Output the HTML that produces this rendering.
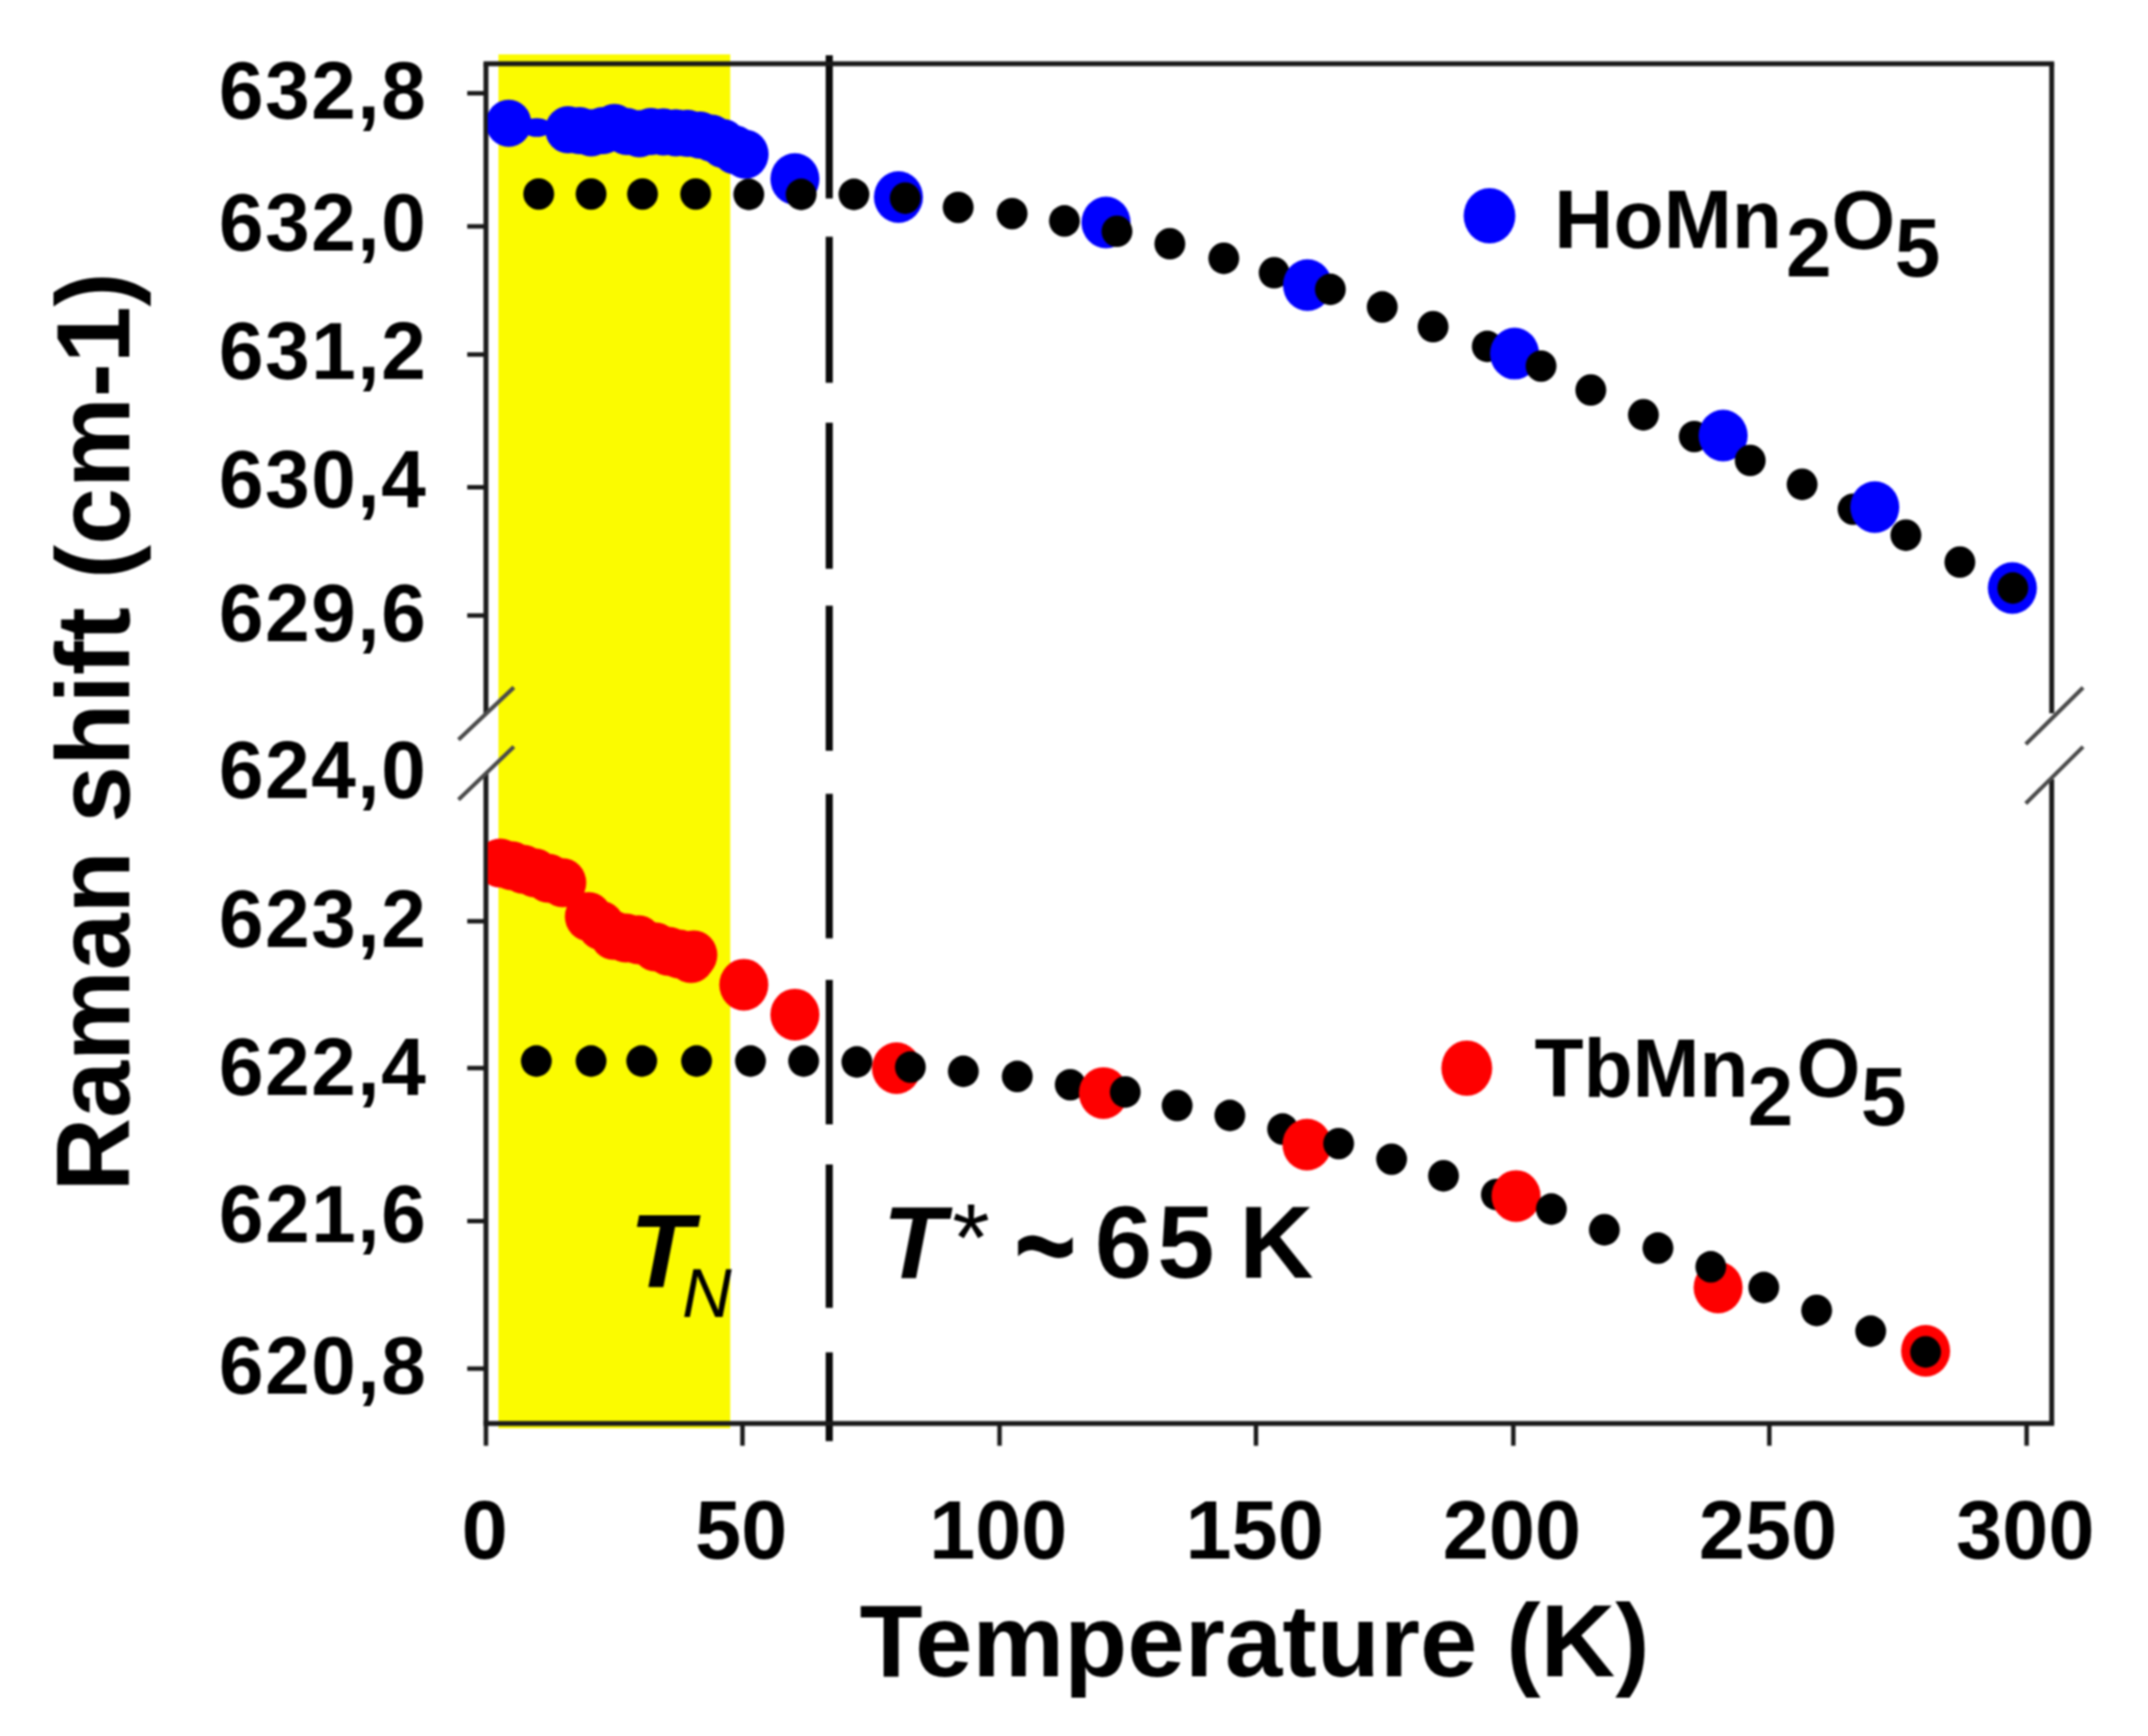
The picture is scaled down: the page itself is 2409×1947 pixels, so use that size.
<!DOCTYPE html>
<html><head><meta charset="utf-8"><title>Raman shift vs Temperature</title>
<style>html,body{margin:0;padding:0;background:#fff;overflow:hidden}svg{display:block;filter:blur(0.9px)}</style>
</head><body>
<svg width="2409" height="1947" viewBox="0 0 2409 1947" font-family='"Liberation Sans", Arial, Helvetica, sans-serif'>
<defs><clipPath id="plotclip"><rect x="547" y="71.5" width="1754" height="1525.1"/></clipPath></defs>
<rect width="2409" height="1947" fill="#fff"/>
<rect x="559" y="61" width="260" height="1541" fill="#fbfb00"/>
<rect x="926" y="62.0" width="8" height="160.6" fill="#0a0a0a"/>
<rect x="926" y="265.5" width="8" height="163.8" fill="#0a0a0a"/>
<rect x="926" y="474.1" width="8" height="163.8" fill="#0a0a0a"/>
<rect x="926" y="679.3" width="8" height="162.7" fill="#0a0a0a"/>
<rect x="926" y="890.3" width="8" height="162.1" fill="#0a0a0a"/>
<rect x="926" y="1099.0" width="8" height="162.0" fill="#0a0a0a"/>
<rect x="926" y="1306.0" width="8" height="160.8" fill="#0a0a0a"/>
<rect x="926" y="1516.7" width="8" height="99.6" fill="#0a0a0a"/>
<line x1="542.25" y1="71.5" x2="2303.75" y2="71.5" stroke="#1a1a1a" stroke-width="5.5"/>
<line x1="542.25" y1="1596.6" x2="2303.75" y2="1596.6" stroke="#1a1a1a" stroke-width="5.5"/>
<line x1="545" y1="71.5" x2="545" y2="800" stroke="#1a1a1a" stroke-width="5.5"/>
<line x1="545" y1="868" x2="545" y2="1596.6" stroke="#1a1a1a" stroke-width="5.5"/>
<line x1="2301" y1="71.5" x2="2301" y2="800" stroke="#1a1a1a" stroke-width="5.5"/>
<line x1="2301" y1="874" x2="2301" y2="1596.6" stroke="#1a1a1a" stroke-width="5.5"/>
<line x1="514.2" y1="829.6" x2="576.3" y2="771" stroke="#4a4a4a" stroke-width="4.5"/>
<line x1="514.2" y1="896.8" x2="576.3" y2="837.3" stroke="#4a4a4a" stroke-width="4.5"/>
<line x1="2271.9" y1="834.7" x2="2336.2" y2="771.1" stroke="#4a4a4a" stroke-width="4.5"/>
<line x1="2271.9" y1="901.1" x2="2336.2" y2="837.5" stroke="#4a4a4a" stroke-width="4.5"/>
<line x1="524" y1="104.6" x2="545" y2="104.6" stroke="#1a1a1a" stroke-width="5"/>
<line x1="524" y1="253.9" x2="545" y2="253.9" stroke="#1a1a1a" stroke-width="5"/>
<line x1="524" y1="397.6" x2="545" y2="397.6" stroke="#1a1a1a" stroke-width="5"/>
<line x1="524" y1="546.5" x2="545" y2="546.5" stroke="#1a1a1a" stroke-width="5"/>
<line x1="524" y1="690.3" x2="545" y2="690.3" stroke="#1a1a1a" stroke-width="5"/>
<line x1="524" y1="1033.2" x2="545" y2="1033.2" stroke="#1a1a1a" stroke-width="5"/>
<line x1="524" y1="1197.9" x2="545" y2="1197.9" stroke="#1a1a1a" stroke-width="5"/>
<line x1="524" y1="1369.5" x2="545" y2="1369.5" stroke="#1a1a1a" stroke-width="5"/>
<line x1="524" y1="1535" x2="545" y2="1535" stroke="#1a1a1a" stroke-width="5"/>
<line x1="545" y1="1596.6" x2="545" y2="1621.5" stroke="#1a1a1a" stroke-width="5"/>
<line x1="832.7" y1="1596.6" x2="832.7" y2="1621.5" stroke="#1a1a1a" stroke-width="5"/>
<line x1="1121" y1="1596.6" x2="1121" y2="1621.5" stroke="#1a1a1a" stroke-width="5"/>
<line x1="1408.6" y1="1596.6" x2="1408.6" y2="1621.5" stroke="#1a1a1a" stroke-width="5"/>
<line x1="1697.2" y1="1596.6" x2="1697.2" y2="1621.5" stroke="#1a1a1a" stroke-width="5"/>
<line x1="1984.3" y1="1596.6" x2="1984.3" y2="1621.5" stroke="#1a1a1a" stroke-width="5"/>
<line x1="2272.9" y1="1596.6" x2="2272.9" y2="1621.5" stroke="#1a1a1a" stroke-width="5"/>
<text x="477.5" y="132.5" text-anchor="end" font-size="90" font-weight="bold" textLength="232" lengthAdjust="spacing">632,8</text>
<text x="477.5" y="280.8" text-anchor="end" font-size="90" font-weight="bold" textLength="232" lengthAdjust="spacing">632,0</text>
<text x="477.5" y="425.4" text-anchor="end" font-size="90" font-weight="bold" textLength="232" lengthAdjust="spacing">631,2</text>
<text x="477.5" y="569.1" text-anchor="end" font-size="90" font-weight="bold" textLength="232" lengthAdjust="spacing">630,4</text>
<text x="477.5" y="719.0" text-anchor="end" font-size="90" font-weight="bold" textLength="232" lengthAdjust="spacing">629,6</text>
<text x="477.5" y="894.7" text-anchor="end" font-size="90" font-weight="bold" textLength="232" lengthAdjust="spacing">624,0</text>
<text x="477.5" y="1061.7" text-anchor="end" font-size="90" font-weight="bold" textLength="232" lengthAdjust="spacing">623,2</text>
<text x="477.5" y="1227.6" text-anchor="end" font-size="90" font-weight="bold" textLength="232" lengthAdjust="spacing">622,4</text>
<text x="477.5" y="1393.4" text-anchor="end" font-size="90" font-weight="bold" textLength="232" lengthAdjust="spacing">621,6</text>
<text x="477.5" y="1562.8" text-anchor="end" font-size="90" font-weight="bold" textLength="232" lengthAdjust="spacing">620,8</text>
<text x="543.5" y="1748" text-anchor="middle" font-size="93" font-weight="bold">0</text>
<text x="831.2" y="1748" text-anchor="middle" font-size="93" font-weight="bold">50</text>
<text x="1119.5" y="1748" text-anchor="middle" font-size="93" font-weight="bold">100</text>
<text x="1407.1" y="1748" text-anchor="middle" font-size="93" font-weight="bold">150</text>
<text x="1695.7" y="1748" text-anchor="middle" font-size="93" font-weight="bold">200</text>
<text x="1982.8" y="1748" text-anchor="middle" font-size="93" font-weight="bold">250</text>
<text x="2271.4" y="1748" text-anchor="middle" font-size="93" font-weight="bold">300</text>
<text x="964" y="1880.4" font-size="115" font-weight="bold" textLength="886" lengthAdjust="spacingAndGlyphs">Temperature (K)</text>
<text transform="translate(145,1336.5) rotate(-90)" x="0" y="0" font-size="117" font-weight="bold" textLength="1031" lengthAdjust="spacingAndGlyphs">Raman shift (cm-1)</text>
<g clip-path="url(#plotclip)"><ellipse cx="561" cy="968" rx="26.5" ry="27.5" fill="#fe0000"/><ellipse cx="570.5" cy="138.3" rx="25.5" ry="26.5" fill="#0000fe"/><ellipse cx="574" cy="971" rx="26.5" ry="27.5" fill="#fe0000"/><ellipse cx="587" cy="975" rx="26.5" ry="27.5" fill="#fe0000"/><ellipse cx="602" cy="143" rx="17" ry="10.5" fill="#0000fe"/><ellipse cx="600" cy="979" rx="26.5" ry="27.5" fill="#fe0000"/><ellipse cx="601.5" cy="1190" rx="17.3" ry="17.7" fill="#000"/><ellipse cx="604.2" cy="217.6" rx="17.3" ry="17.7" fill="#000"/><ellipse cx="615" cy="985" rx="26.5" ry="27.5" fill="#fe0000"/><ellipse cx="631" cy="990" rx="26.5" ry="27.5" fill="#fe0000"/><ellipse cx="637" cy="145.5" rx="25.5" ry="26.5" fill="#0000fe"/><ellipse cx="650" cy="146.5" rx="25.5" ry="26.5" fill="#0000fe"/><ellipse cx="660" cy="1028" rx="26.5" ry="27.5" fill="#fe0000"/><ellipse cx="662.9" cy="217.6" rx="17.3" ry="17.7" fill="#000"/><ellipse cx="662.9" cy="1190" rx="17.3" ry="17.7" fill="#000"/><ellipse cx="663" cy="149" rx="25.5" ry="26.5" fill="#0000fe"/><ellipse cx="674" cy="1038" rx="26.5" ry="27.5" fill="#fe0000"/><ellipse cx="676" cy="146.5" rx="25.5" ry="26.5" fill="#0000fe"/><ellipse cx="688" cy="1049" rx="26.5" ry="27.5" fill="#fe0000"/><ellipse cx="689" cy="143" rx="25.5" ry="26.5" fill="#0000fe"/><ellipse cx="702" cy="1052" rx="26.5" ry="27.5" fill="#fe0000"/><ellipse cx="703" cy="147.5" rx="25.5" ry="26.5" fill="#0000fe"/><ellipse cx="716" cy="1054" rx="26.5" ry="27.5" fill="#fe0000"/><ellipse cx="717" cy="150" rx="25.5" ry="26.5" fill="#0000fe"/><ellipse cx="719.7" cy="1190" rx="17.3" ry="17.7" fill="#000"/><ellipse cx="720.6" cy="217.6" rx="17.3" ry="17.7" fill="#000"/><ellipse cx="730" cy="147.5" rx="25.5" ry="26.5" fill="#0000fe"/><ellipse cx="735" cy="1062" rx="26.5" ry="27.5" fill="#fe0000"/><ellipse cx="744" cy="148" rx="25.5" ry="26.5" fill="#0000fe"/><ellipse cx="750" cy="1067" rx="26.5" ry="27.5" fill="#fe0000"/><ellipse cx="758" cy="149" rx="25.5" ry="26.5" fill="#0000fe"/><ellipse cx="762" cy="1070" rx="26.5" ry="27.5" fill="#fe0000"/><ellipse cx="771" cy="149.5" rx="25.5" ry="26.5" fill="#0000fe"/><ellipse cx="775" cy="1075" rx="26.5" ry="27.5" fill="#fe0000"/><ellipse cx="778" cy="1071" rx="26.5" ry="27.5" fill="#fe0000"/><ellipse cx="780.2" cy="217.6" rx="17.3" ry="17.7" fill="#000"/><ellipse cx="781.2" cy="1190" rx="17.3" ry="17.7" fill="#000"/><ellipse cx="785" cy="151.5" rx="25.5" ry="26.5" fill="#0000fe"/><ellipse cx="798" cy="155" rx="25.5" ry="26.5" fill="#0000fe"/><ellipse cx="811" cy="161" rx="26" ry="27.5" fill="#0000fe"/><ellipse cx="824" cy="168" rx="26" ry="27.5" fill="#0000fe"/><ellipse cx="834.2" cy="1104.4" rx="27.5" ry="29" fill="#fe0000"/><ellipse cx="836" cy="173" rx="26" ry="27.5" fill="#0000fe"/><ellipse cx="839.8" cy="218" rx="17.3" ry="17.7" fill="#000"/><ellipse cx="841.7" cy="1190" rx="17.3" ry="17.7" fill="#000"/><ellipse cx="891.5" cy="200.8" rx="27.5" ry="29" fill="#0000fe"/><ellipse cx="891.5" cy="1137.9" rx="27.5" ry="29" fill="#fe0000"/><ellipse cx="898.5" cy="218" rx="17.3" ry="17.7" fill="#000"/><ellipse cx="901.3" cy="1190" rx="17.3" ry="17.7" fill="#000"/><ellipse cx="957.7" cy="218" rx="17.3" ry="17.7" fill="#000"/><ellipse cx="961" cy="1191" rx="17.3" ry="17.7" fill="#000"/><ellipse cx="1005.4" cy="1198" rx="27.5" ry="29" fill="#fe0000"/><ellipse cx="1007.6" cy="221" rx="27.5" ry="29" fill="#0000fe"/><ellipse cx="1015.2" cy="222.2" rx="17.3" ry="17.7" fill="#000"/><ellipse cx="1021" cy="1196.8" rx="17.3" ry="17.7" fill="#000"/><ellipse cx="1074.6" cy="232.6" rx="17.3" ry="17.7" fill="#000"/><ellipse cx="1080.4" cy="1201.5" rx="17.3" ry="17.7" fill="#000"/><ellipse cx="1135.1" cy="239.6" rx="17.3" ry="17.7" fill="#000"/><ellipse cx="1140.9" cy="1207.3" rx="17.3" ry="17.7" fill="#000"/><ellipse cx="1193.8" cy="247.8" rx="17.3" ry="17.7" fill="#000"/><ellipse cx="1200.3" cy="1216.6" rx="17.3" ry="17.7" fill="#000"/><ellipse cx="1237.5" cy="1225.9" rx="27.5" ry="29" fill="#fe0000"/><ellipse cx="1240.4" cy="249.5" rx="27.5" ry="29" fill="#0000fe"/><ellipse cx="1252.7" cy="259.4" rx="17.3" ry="17.7" fill="#000"/><ellipse cx="1262" cy="1224.7" rx="17.3" ry="17.7" fill="#000"/><ellipse cx="1312" cy="273.4" rx="17.3" ry="17.7" fill="#000"/><ellipse cx="1320.2" cy="1239.9" rx="17.3" ry="17.7" fill="#000"/><ellipse cx="1372.5" cy="289.7" rx="17.3" ry="17.7" fill="#000"/><ellipse cx="1379.3" cy="1251" rx="17.3" ry="17.7" fill="#000"/><ellipse cx="1429" cy="305.9" rx="17.3" ry="17.7" fill="#000"/><ellipse cx="1438.5" cy="1266.3" rx="17.3" ry="17.7" fill="#000"/><ellipse cx="1465.8" cy="1283.8" rx="27.5" ry="29" fill="#fe0000"/><ellipse cx="1466.4" cy="319.8" rx="27.5" ry="29" fill="#0000fe"/><ellipse cx="1492" cy="324.5" rx="17.3" ry="17.7" fill="#000"/><ellipse cx="1501.3" cy="1282.6" rx="17.3" ry="17.7" fill="#000"/><ellipse cx="1550.2" cy="344.3" rx="17.3" ry="17.7" fill="#000"/><ellipse cx="1560.7" cy="1300.1" rx="17.3" ry="17.7" fill="#000"/><ellipse cx="1607.2" cy="366.4" rx="17.3" ry="17.7" fill="#000"/><ellipse cx="1618.9" cy="1318.7" rx="17.3" ry="17.7" fill="#000"/><ellipse cx="1668" cy="388.5" rx="17.3" ry="17.7" fill="#000"/><ellipse cx="1678.2" cy="1339.7" rx="17.3" ry="17.7" fill="#000"/><ellipse cx="1698.6" cy="396.6" rx="27.5" ry="29" fill="#0000fe"/><ellipse cx="1700.3" cy="1341.4" rx="27.5" ry="29" fill="#fe0000"/><ellipse cx="1728.3" cy="410.6" rx="17.3" ry="17.7" fill="#000"/><ellipse cx="1739.9" cy="1356" rx="17.3" ry="17.7" fill="#000"/><ellipse cx="1784.1" cy="437.4" rx="17.3" ry="17.7" fill="#000"/><ellipse cx="1799.3" cy="1379.2" rx="17.3" ry="17.7" fill="#000"/><ellipse cx="1843.1" cy="465.2" rx="17.3" ry="17.7" fill="#000"/><ellipse cx="1859.4" cy="1399.8" rx="17.3" ry="17.7" fill="#000"/><ellipse cx="1900.1" cy="489.6" rx="17.3" ry="17.7" fill="#000"/><ellipse cx="1926.9" cy="1444" rx="27.5" ry="29" fill="#fe0000"/><ellipse cx="1932.5" cy="488.5" rx="27.5" ry="29" fill="#0000fe"/><ellipse cx="1962.9" cy="516.4" rx="17.3" ry="17.7" fill="#000"/><ellipse cx="1978.1" cy="1444" rx="17.3" ry="17.7" fill="#000"/><ellipse cx="1918.7" cy="1420.8" rx="17.3" ry="17.7" fill="#000"/><ellipse cx="2021.1" cy="543.2" rx="17.3" ry="17.7" fill="#000"/><ellipse cx="2037.4" cy="1469.7" rx="17.3" ry="17.7" fill="#000"/><ellipse cx="2078.2" cy="571.1" rx="17.3" ry="17.7" fill="#000"/><ellipse cx="2098" cy="1493" rx="17.3" ry="17.7" fill="#000"/><ellipse cx="2102.6" cy="568.8" rx="27.5" ry="29" fill="#0000fe"/><ellipse cx="2137.5" cy="600.2" rx="17.3" ry="17.7" fill="#000"/><ellipse cx="2159.6" cy="1515" rx="27.5" ry="29" fill="#fe0000"/><ellipse cx="2159.6" cy="1516.2" rx="17.3" ry="17.7" fill="#000"/><ellipse cx="2198" cy="630.4" rx="17.3" ry="17.7" fill="#000"/><ellipse cx="2256.9" cy="659.5" rx="27.5" ry="29" fill="#0000fe"/><ellipse cx="2257.4" cy="659.5" rx="17.3" ry="17.7" fill="#000"/></g>
<ellipse cx="1670.5" cy="242" rx="29" ry="31" fill="#0000fe"/>
<ellipse cx="1645" cy="1198" rx="28.5" ry="31" fill="#fe0000"/>
<text y="278" font-size="92" font-weight="bold"><tspan x="1743">HoMn</tspan><tspan x="2003" y="310">2</tspan><tspan x="2054" y="278.5">O</tspan><tspan x="2125" y="310">5</tspan></text>
<text y="1229.6" font-size="92" font-weight="bold"><tspan x="1721" textLength="240" lengthAdjust="spacingAndGlyphs">TbMn</tspan><tspan x="1960" y="1261.7">2</tspan><tspan x="2015" y="1229.6">O</tspan><tspan x="2087" y="1261.7">5</tspan></text>
<text transform="translate(1137,1451.5) scale(1.05,1.41)" font-size="115" font-weight="bold">~</text>
<text x="706" y="1443.6" font-size="117" font-weight="bold" font-style="italic">T</text>
<text x="765" y="1476.9" font-size="77" font-style="italic">N</text>
<text y="1432.6" font-size="115" font-weight="bold"><tspan x="990" font-style="italic">T</tspan><tspan x="1068" y="1425" font-weight="normal" font-size="108">*</tspan><tspan x="1228" y="1432.6">6</tspan><tspan x="1298" y="1432.6">5</tspan><tspan x="1390" y="1432.6">K</tspan></text>
</svg>
</body></html>
